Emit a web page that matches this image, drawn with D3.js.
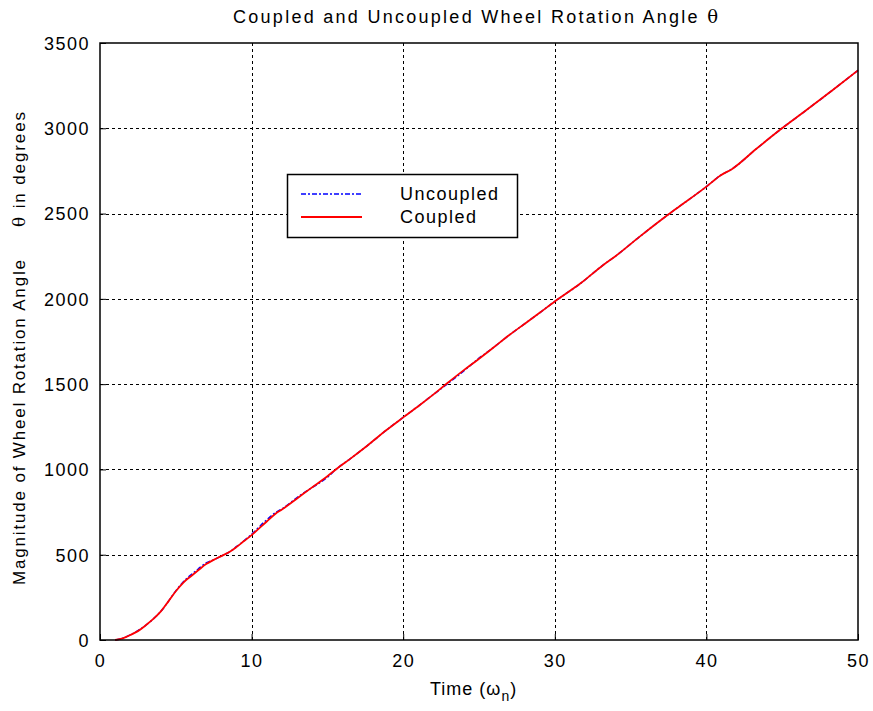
<!DOCTYPE html>
<html>
<head>
<meta charset="utf-8">
<script src="https://cdn.jsdelivr.net/npm/d3@7"></script>
<style>
  body { margin: 0; background: #fff; }
  svg { display: block; }
  text { font-family: "Liberation Sans", Arial, sans-serif; fill: #000; }
</style>
</head>
<body>
<svg id="chart" width="873" height="711"></svg>
<script>
// time values (x)
const time = [1, 1.5, 2, 2.5, 3, 3.5, 4, 4.5, 5, 5.5, 6, 6.5, 7, 7.5, 8, 8.5, 9, 9.5, 10, 11,
  11.6, 12, 13, 13.9, 15, 15.6, 16.5, 17.5, 18.9, 20, 21.1, 22, 22.9, 24, 24.9, 26, 27, 28, 29, 30,
  31.7, 33.2, 34, 35.6, 37.6, 38, 40, 40.9, 41.7, 43.3, 44.9, 46.6, 48.4, 50];

const coupled = [0, 10, 29, 52, 85, 122, 166, 225, 286, 337, 374, 410, 445, 470, 492, 514, 545, 580, 615, 695,
  742, 765, 830, 889, 960, 1003, 1062, 1130, 1231, 1305, 1378, 1440, 1505, 1582, 1642, 1718, 1788, 1853, 1918, 1985,
  2091, 2199, 2250, 2365, 2502, 2528, 2658, 2722, 2762, 2880, 2994, 3107, 3229, 3340];

const uncoupled = [0, 10, 30, 55, 85, 122, 166, 225, 288, 342, 382, 418, 452, 470, 492, 514, 547, 582, 620, 705,
  748, 768, 835, 889, 954, 1003, 1062, 1130, 1231, 1305, 1378, 1440, 1500, 1578, 1645, 1718, 1788, 1853, 1918, 1985,
  2091, 2199, 2250, 2365, 2502, 2528, 2658, 2722, 2762, 2880, 2994, 3107, 3229, 3340];

const xTicks = [0, 10, 20, 30, 40, 50];
const yTicks = [0, 500, 1000, 1500, 2000, 2500, 3000, 3500];

const seriesNames = ["Uncoupled", "Coupled"];
const seriesColors = ["#0000ff", "#ff0000"];

const margin = { left: 100, top: 43, right: 15, bottom: 71 };
const width = 873, height = 711;

const svg = d3.select("#chart");

const x = d3.scaleLinear().domain([0, 50]).range([margin.left, width - margin.right]);
const y = d3.scaleLinear().domain([0, 3500]).range([height - margin.bottom, margin.top]);

// grid
const grid = svg.append("g")
  .attr("stroke", "#000")
  .attr("stroke-width", 1)
  .attr("stroke-dasharray", "3,3");

grid.selectAll("line.vx")
  .data(xTicks.slice(1, -1))
  .enter()
  .append("line")
  .attr("x1", d => Math.round(x(d)) + 0.5)
  .attr("x2", d => Math.round(x(d)) + 0.5)
  .attr("y1", y(0))
  .attr("y2", y(3500));

grid.selectAll("line.hy")
  .data(yTicks.slice(1, -1))
  .enter()
  .append("line")
  .attr("y1", d => Math.round(y(d)) + 0.5)
  .attr("y2", d => Math.round(y(d)) + 0.5)
  .attr("x1", x(0))
  .attr("x2", x(50));

// axes (ticks inside, labels outside)
const xAxis = svg.append("g")
  .attr("transform", `translate(0,${y(0)})`)
  .call(d3.axisBottom(x).tickValues(xTicks).tickSize(-6).tickPadding(14));

const yAxis = svg.append("g")
  .attr("transform", `translate(${x(0)},0)`)
  .call(d3.axisLeft(y).tickValues(yTicks).tickSize(-6).tickPadding(10).tickFormat(d3.format("d")));

[xAxis, yAxis].forEach(g => {
  g.select(".domain").remove();
  g.selectAll("line").attr("stroke", "#000");
  g.selectAll("text")
    .style("font-family", '"Liberation Sans", Arial, sans-serif')
    .style("font-size", "18px")
    .style("letter-spacing", "1.5px")
    .attr("fill", "#000");
});
xAxis.selectAll("text").attr("dy", "0.71em");
yAxis.selectAll("text").attr("dy", "0.35em");

// lines
const line = d3.line()
  .x((d, i) => x(time[i]))
  .y(d => y(d))
  .curve(d3.curveMonotoneX);

svg.append("path")
  .datum(uncoupled)
  .attr("fill", "none")
  .attr("stroke", seriesColors[0])
  .attr("stroke-width", 1.5)
  .attr("stroke-dasharray", "5,2,2,2")
  .attr("d", line);

svg.append("path")
  .datum(coupled)
  .attr("fill", "none")
  .attr("stroke", seriesColors[1])
  .attr("stroke-width", 1.8)
  .attr("d", line);

// frame
svg.append("rect")
  .attr("x", x(0))
  .attr("y", y(3500))
  .attr("width", x(50) - x(0))
  .attr("height", y(0) - y(3500))
  .attr("fill", "none")
  .attr("stroke", "#000")
  .attr("stroke-width", 1.5);

// title
const title = svg.append("text")
  .attr("x", 233)
  .attr("y", 23)
  .style("font-size", "18px")
  .attr("textLength", 485)
  .attr("lengthAdjust", "spacing");
title.append("tspan").text("Coupled and Uncoupled Wheel Rotation Angle ");
title.append("tspan").style("font-family", '"DejaVu Serif", serif').text("θ");

// x label
const xl = svg.append("text")
  .attr("x", 430)
  .attr("y", 695)
  .style("font-size", "18px")
  .style("letter-spacing", "1px");
xl.append("tspan").text("Time (ω");
xl.append("tspan").attr("dy", 6).style("font-size", "14px").text("n");
xl.append("tspan").attr("dy", -6).text(")");

// y label
svg.append("text")
  .attr("transform", "translate(25,585) rotate(-90)")
  .style("font-size", "17px")
  .attr("textLength", 325)
  .attr("lengthAdjust", "spacing")
  .text("Magnitude of Wheel Rotation Angle");

const yl2 = svg.append("text")
  .attr("transform", "translate(25,227) rotate(-90)")
  .style("font-size", "17px")
  .attr("textLength", 115)
  .attr("lengthAdjust", "spacing");
yl2.append("tspan").style("font-family", '"DejaVu Serif", serif').text("θ");
yl2.append("tspan").text(" in degrees");

// legend
const legend = svg.append("g");
legend.append("rect")
  .attr("x", 287.5)
  .attr("y", 174.5)
  .attr("width", 230)
  .attr("height", 63)
  .attr("fill", "#fff")
  .attr("stroke", "#000")
  .attr("stroke-width", 1.5);

const legendRows = legend.selectAll("g.row")
  .data(seriesNames)
  .enter()
  .append("g")
  .attr("transform", (d, i) => `translate(0,${194 + i * 23})`);

legendRows.append("line")
  .attr("x1", 301)
  .attr("x2", 362)
  .attr("stroke", (d, i) => seriesColors[i])
  .attr("stroke-width", (d, i) => i === 0 ? 1.5 : 1.8)
  .attr("stroke-dasharray", (d, i) => i === 0 ? "5,2,2,2" : null);

legendRows.append("text")
  .attr("x", 400)
  .attr("y", 6)
  .style("font-size", "18px")
  .style("letter-spacing", "1.5px")
  .text(d => d);
</script>
</body>
</html>
